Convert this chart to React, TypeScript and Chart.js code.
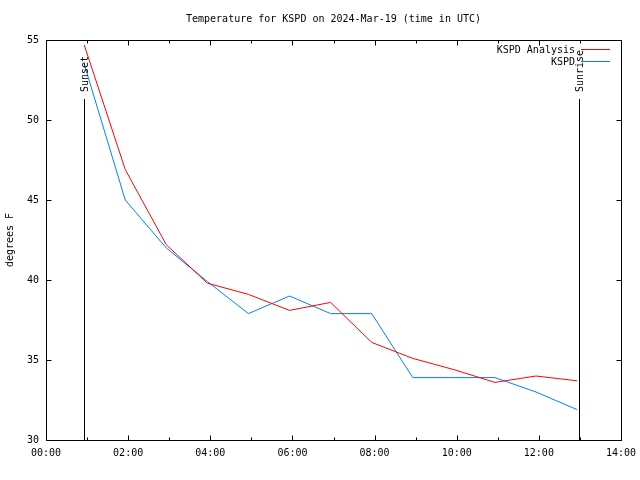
import React, { useEffect, useRef } from "react";
import { Chart, registerables } from "chart.js";

Chart.register(...registerables);

const TITLE = "Temperature for KSPD on 2024-Mar-19 (time in UTC)";
const Y_LABEL = "degrees F";
const HOURS = [0.93, 1.93, 2.93, 3.93, 4.93, 5.93, 6.93, 7.93, 8.93, 9.93, 10.93, 11.93, 12.93];
const ANALYSIS = [54.7, 46.9, 42.2, 39.8, 39.1, 38.1, 38.6, 36.1, 35.1, 34.4, 33.6, 34.0, 33.7];
const OBSERVED = [53.5, 45.0, 42.0, 39.9, 37.9, 39.0, 37.9, 37.9, 33.9, 33.9, 33.9, 33.0, 31.9];
const SERIES_NAMES = ["KSPD Analysis", "KSPD"];
const SERIES_COLORS = ["#ff0000", "#0080ff"];
const SUN_EVENTS = [
  { label: "Sunset", hour: 0.93 },
  { label: "Sunrise", hour: 12.98 },
];
const X_MIN = 0;
const X_MAX = 14;
const Y_MIN = 30;
const Y_MAX = 55;

const FONT = "10px 'DejaVu Sans Mono', monospace";

const pad2 = (n: number) => (n < 10 ? "0" + n : "" + n);

const gnuplotPlugin = {
  id: "gnuplotDecor",
  afterDraw(chart: any) {
    const ctx = chart.ctx as CanvasRenderingContext2D;
    const area = chart.chartArea;
    const xs = chart.scales.x;
    const ys = chart.scales.y;
    const L = Math.round(area.left) + 0.5;
    const R = Math.round(area.right) + 0.5;
    const T = Math.round(area.top) + 0.5;
    const B = Math.round(area.bottom) + 0.5;
    ctx.save();
    ctx.setLineDash([]);
    ctx.globalAlpha = 1;
    ctx.strokeStyle = "#000";
    ctx.lineWidth = 1;
    ctx.strokeRect(L, T, R - L, B - T);
    ctx.beginPath();
    for (let h = X_MIN + 1; h < X_MAX; h++) {
      const px = Math.round(xs.getPixelForValue(h)) + 0.5;
      const len = h % 2 === 0 ? 5 : 3;
      ctx.moveTo(px, B);
      ctx.lineTo(px, B - len);
      ctx.moveTo(px, T);
      ctx.lineTo(px, T + len);
    }
    for (let v = Y_MIN + 5; v < Y_MAX; v += 5) {
      const py = Math.round(ys.getPixelForValue(v)) + 0.5;
      ctx.moveTo(L, py);
      ctx.lineTo(L + 5, py);
      ctx.moveTo(R, py);
      ctx.lineTo(R - 5, py);
    }
    ctx.stroke();

    ctx.font = FONT;
    ctx.fillStyle = "#000";
    for (const ev of SUN_EVENTS) {
      const px = Math.round(xs.getPixelForValue(ev.hour)) + 0.5;
      ctx.strokeStyle = "#000";
      ctx.beginPath();
      ctx.moveTo(px, 99);
      ctx.lineTo(px, B);
      ctx.stroke();
      ctx.save();
      ctx.translate(px + 1, 92);
      ctx.rotate(-Math.PI / 2);
      ctx.textAlign = "left";
      ctx.textBaseline = "middle";
      ctx.fillText(ev.label, 0, 0);
      ctx.restore();
    }

    ctx.textAlign = "center";
    ctx.textBaseline = "middle";
    ctx.fillText(TITLE, (area.left + area.right) / 2, 19);

    ctx.save();
    ctx.translate(10, (area.top + area.bottom) / 2);
    ctx.rotate(-Math.PI / 2);
    ctx.textAlign = "center";
    ctx.textBaseline = "middle";
    ctx.fillText(Y_LABEL, 0, 0);
    ctx.restore();

    const legY = [50, 62];
    SERIES_NAMES.forEach((name, i) => {
      ctx.fillStyle = "#000";
      ctx.textAlign = "right";
      ctx.textBaseline = "middle";
      ctx.fillText(name, 575, legY[i]);
      ctx.fillStyle = SERIES_COLORS[i];
      ctx.fillRect(581, legY[i] - 1, 29, 1);
    });
    ctx.restore();
  },
};

export default function App() {
  const ref = useRef<HTMLCanvasElement | null>(null);
  useEffect(() => {
    if (!ref.current) return;
    const chart = new Chart(ref.current, {
      type: "line",
      data: {
        datasets: [
          {
            label: SERIES_NAMES[0],
            data: HOURS.map((h, i) => ({ x: h, y: ANALYSIS[i] })),
            borderColor: SERIES_COLORS[0],
            borderWidth: 1,
            pointRadius: 0,
            tension: 0,
            fill: false,
          },
          {
            label: SERIES_NAMES[1],
            data: HOURS.map((h, i) => ({ x: h, y: OBSERVED[i] })),
            borderColor: SERIES_COLORS[1],
            borderWidth: 1,
            pointRadius: 0,
            tension: 0,
            fill: false,
          },
        ],
      },
      options: {
        responsive: false,
        animation: false,
        devicePixelRatio: 1,
        layout: { padding: { left: 0, top: 40, right: 19, bottom: 0 } },
        plugins: {
          legend: { display: false },
          title: { display: false },
          tooltip: { enabled: false },
        },
        scales: {
          x: {
            type: "linear",
            min: X_MIN,
            max: X_MAX,
            grid: { display: false, drawTicks: false },
            border: { display: false },
            ticks: {
              stepSize: 2,
              autoSkip: false,
              maxRotation: 0,
              padding: 7,
              color: "#000",
              font: { family: "'DejaVu Sans Mono', monospace", size: 10 },
              callback: (v: any) => pad2(Number(v)) + ":00",
            },
            afterFit: (s: any) => {
              s.height = 40;
              s.paddingLeft = 0;
              s.paddingRight = 0;
            },
          },
          y: {
            min: Y_MIN,
            max: Y_MAX,
            grid: { display: false, drawTicks: false },
            border: { display: false },
            ticks: {
              stepSize: 5,
              padding: 7,
              color: "#000",
              font: { family: "'DejaVu Sans Mono', monospace", size: 10 },
            },
            afterFit: (s: any) => {
              s.width = 46;
              s.paddingTop = 0;
              s.paddingBottom = 0;
            },
          },
        },
      },
      plugins: [gnuplotPlugin],
    });
    return () => chart.destroy();
  }, []);
  return (
    <div style={{ position: "absolute", left: 0, top: 0, width: 640, height: 480, background: "#fff" }}>
      <canvas ref={ref} width={640} height={480} />
    </div>
  );
}
